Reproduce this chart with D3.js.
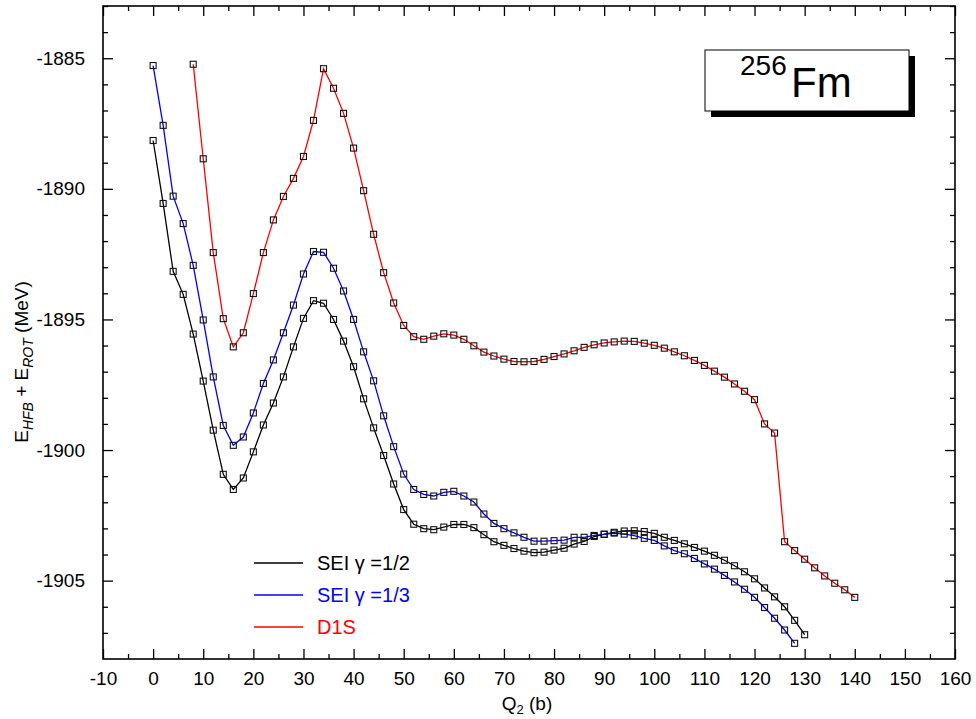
<!DOCTYPE html>
<html>
<head>
<meta charset="utf-8">
<script src="https://cdn.jsdelivr.net/npm/d3@7/dist/d3.min.js"></script>
<style>
  html, body { margin: 0; padding: 0; background: #fff; }
  svg { display: block; font-family: "Liberation Sans", Arial, sans-serif; }
</style>
</head>
<body>
<svg id="chart" width="976" height="719"></svg>
<script>
// Deformation Q2 (b) for each calculation
const qSEIhalf = [0,2,4,6,8,10,12,14,16,18,20,22,24,26,28,30,32,34,36,38,40,42,44,46,48,50,52,54,56,58,60,62,64,66,68,70,72,74,76,78,80,82,84,86,88,90,92,94,96,98,100,102,104,106,108,110,112,114,116,118,120,122,124,126,128,130];
const qSEIthird = [0,2,4,6,8,10,12,14,16,18,20,22,24,26,28,30,32,34,36,38,40,42,44,46,48,50,52,54,56,58,60,62,64,66,68,70,72,74,76,78,80,82,84,86,88,90,92,94,96,98,100,102,104,106,108,110,112,114,116,118,120,122,124,126,128];
const qD1S = [8,10,12,14,16,18,20,22,24,26,28,30,32,34,36,38,40,42,44,46,48,50,52,54,56,58,60,62,64,66,68,70,72,74,76,78,80,82,84,86,88,90,92,94,96,98,100,102,104,106,108,110,112,114,116,118,120,122,124,126,128,130,132,134,136,138,140];

// E_HFB + E_ROT (MeV)
const eSEIhalf = [-1888.15,-1890.56,-1893.16,-1894.04,-1895.56,-1897.36,-1899.24,-1900.93,-1901.51,-1901.07,
  -1900.07,-1899.04,-1898.20,-1897.20,-1896.05,-1894.96,-1894.28,-1894.38,-1895.00,-1895.83,
  -1896.81,-1898.04,-1899.15,-1900.21,-1901.30,-1902.28,-1902.84,-1903.01,-1903.05,-1902.95,
  -1902.85,-1902.85,-1902.97,-1903.24,-1903.51,-1903.65,-1903.77,-1903.87,-1903.93,-1903.91,
  -1903.83,-1903.76,-1903.60,-1903.50,-1903.31,-1903.22,-1903.15,-1903.10,-1903.09,-1903.12,
  -1903.19,-1903.34,-1903.46,-1903.59,-1903.73,-1903.87,-1904.03,-1904.22,-1904.43,-1904.66,
  -1904.93,-1905.28,-1905.62,-1906.00,-1906.52,-1907.07];
const eSEIthird = [-1885.28,-1887.57,-1890.28,-1891.33,-1892.93,-1895.02,-1897.20,-1899.06,-1899.82,-1899.50,
  -1898.58,-1897.45,-1896.55,-1895.51,-1894.45,-1893.26,-1892.40,-1892.43,-1893.04,-1893.91,
  -1895.00,-1896.24,-1897.35,-1898.69,-1899.87,-1900.92,-1901.51,-1901.70,-1901.76,-1901.62,
  -1901.58,-1901.76,-1901.99,-1902.45,-1902.81,-1903.01,-1903.17,-1903.34,-1903.49,-1903.49,
  -1903.47,-1903.45,-1903.34,-1903.34,-1903.27,-1903.23,-1903.18,-1903.22,-1903.28,-1903.38,
  -1903.46,-1903.67,-1903.85,-1903.97,-1904.15,-1904.36,-1904.56,-1904.80,-1905.05,-1905.33,
  -1905.64,-1906.03,-1906.44,-1906.89,-1907.40];
const eD1S = [-1885.23,-1888.85,-1892.44,-1894.97,-1896.05,-1895.51,-1894.01,-1892.44,-1891.19,-1890.29,
  -1889.60,-1888.76,-1887.38,-1885.40,-1886.15,-1887.11,-1888.44,-1890.07,-1891.74,-1893.21,
  -1894.37,-1895.23,-1895.66,-1895.76,-1895.64,-1895.55,-1895.60,-1895.76,-1896.01,-1896.25,
  -1896.40,-1896.52,-1896.61,-1896.62,-1896.61,-1896.53,-1896.42,-1896.32,-1896.20,-1896.07,
  -1895.97,-1895.90,-1895.86,-1895.83,-1895.84,-1895.91,-1895.99,-1896.10,-1896.24,-1896.39,
  -1896.57,-1896.76,-1896.98,-1897.21,-1897.47,-1897.75,-1898.07,-1899.00,-1899.35,-1903.51,
  -1903.85,-1904.18,-1904.51,-1904.82,-1905.10,-1905.35,-1905.64];

const seriesNames = ["SEI \u03b3 =1/2", "SEI \u03b3 =1/3", "D1S"];
const seriesColors = ["#000000", "#0000ff", "#ff0000"];

const xTickValues = [-10,0,10,20,30,40,50,60,70,80,90,100,110,120,130,140,150,160];
const xMinorValues = [-5,5,15,25,35,45,55,65,75,85,95,105,115,125,135,145,155];
const yTickValues = [-1905,-1900,-1895,-1890,-1885];
const yMinorValues = [-1907,-1906,-1904,-1903,-1902,-1901,-1899,-1898,-1897,-1896,-1894,-1893,-1892,-1891,-1889,-1888,-1887,-1886,-1884,-1883];

const series = [
  {name: seriesNames[0], color: seriesColors[0], q: qSEIhalf, e: eSEIhalf},
  {name: seriesNames[1], color: seriesColors[1], q: qSEIthird, e: eSEIthird},
  {name: seriesNames[2], color: seriesColors[2], q: qD1S, e: eD1S}
];

const L = 103, R = 955, T = 6, B = 659;
const svg = d3.select("#chart");
const x = d3.scaleLinear().domain([-10, 160]).range([L, R]);
const y = d3.scaleLinear().domain([-1908, -1883]).range([B, T]);
const fmt = d => String(d);
const FS = 19;

// axes with inward ticks on all four sides
function styleAxis(g) {
  g.select(".domain").remove();
  g.selectAll(".tick line").attr("stroke", "#000").attr("stroke-width", 1.3);
  g.selectAll("text").attr("font-size", FS).attr("fill", "#000")
    .attr("font-family", "'Liberation Sans', Arial, sans-serif");
}
svg.append("g").attr("transform", `translate(0,${B})`)
  .call(d3.axisBottom(x).tickValues(xTickValues).tickFormat(fmt).tickSizeInner(-10).tickSizeOuter(0).tickPadding(13))
  .call(styleAxis);
svg.append("g").attr("transform", `translate(0,${B})`)
  .call(d3.axisBottom(x).tickValues(xMinorValues).tickFormat("").tickSizeInner(-5).tickSizeOuter(0))
  .call(styleAxis);
svg.append("g").attr("transform", `translate(0,${T})`)
  .call(d3.axisTop(x).tickValues(xTickValues).tickFormat("").tickSizeInner(-10).tickSizeOuter(0))
  .call(styleAxis);
svg.append("g").attr("transform", `translate(0,${T})`)
  .call(d3.axisTop(x).tickValues(xMinorValues).tickFormat("").tickSizeInner(-5).tickSizeOuter(0))
  .call(styleAxis);
svg.append("g").attr("transform", `translate(${L},0)`)
  .call(d3.axisLeft(y).tickValues(yTickValues).tickFormat(fmt).tickSizeInner(-10).tickSizeOuter(0).tickPadding(18))
  .call(styleAxis);
svg.append("g").attr("transform", `translate(${L},0)`)
  .call(d3.axisLeft(y).tickValues(yMinorValues).tickFormat("").tickSizeInner(-5).tickSizeOuter(0))
  .call(styleAxis);
svg.append("g").attr("transform", `translate(${R},0)`)
  .call(d3.axisRight(y).tickValues(yTickValues).tickFormat("").tickSizeInner(-10).tickSizeOuter(0))
  .call(styleAxis);
svg.append("g").attr("transform", `translate(${R},0)`)
  .call(d3.axisRight(y).tickValues(yMinorValues).tickFormat("").tickSizeInner(-5).tickSizeOuter(0))
  .call(styleAxis);

// plot frame
svg.append("rect").attr("x", L).attr("y", T).attr("width", R - L).attr("height", B - T)
  .attr("fill", "none").attr("stroke", "#000").attr("stroke-width", 1.6);

// curves
const line = d3.line().x(d => x(d[0])).y(d => y(d[1]));
series.forEach(s => {
  const pts = s.q.map((q, i) => [q, s.e[i]]);
  svg.append("path").datum(pts).attr("d", line)
    .attr("fill", "none").attr("stroke", s.color).attr("stroke-width", 1.3);
});
// open square markers
series.forEach(s => {
  const pts = s.q.map((q, i) => [q, s.e[i]]);
  svg.append("g").selectAll("rect").data(pts).join("rect")
    .attr("x", d => x(d[0]) - 3).attr("y", d => y(d[1]) - 3)
    .attr("width", 6).attr("height", 6)
    .attr("fill", "none").attr("stroke", "#111").attr("stroke-width", 1.1);
});

// legend
const legY = [563, 595, 627];
series.forEach((s, i) => {
  svg.append("line").attr("x1", 254).attr("x2", 303).attr("y1", legY[i]).attr("y2", legY[i])
    .attr("stroke", s.color).attr("stroke-width", 1.3);
  svg.append("text").attr("x", 317).attr("y", legY[i] + 7).attr("font-size", 20)
    .attr("fill", s.color).text(s.name);
});

// nucleus label box with drop shadow
svg.append("rect").attr("x", 711).attr("y", 56).attr("width", 204).attr("height", 61).attr("fill", "#000");
svg.append("rect").attr("x", 705).attr("y", 50).attr("width", 204).attr("height", 61)
  .attr("fill", "#fff").attr("stroke", "#000").attr("stroke-width", 1);
svg.append("text").attr("x", 740).attr("y", 75).attr("font-size", 28).attr("fill", "#000").text("256");
svg.append("text").attr("x", 791).attr("y", 97).attr("font-size", 42).attr("fill", "#000").text("Fm");

// x-axis title
const xt = svg.append("text").attr("x", (L + R) / 2 - 2).attr("y", 710).attr("text-anchor", "middle")
  .attr("font-size", FS).attr("fill", "#000");
xt.append("tspan").text("Q");
xt.append("tspan").attr("font-size", 13).attr("dy", 4).text("2");
xt.append("tspan").attr("dy", -4).text(" (b)");

// y-axis title
const yt = svg.append("text").attr("transform", "translate(28,362) rotate(-90)")
  .attr("text-anchor", "middle").attr("font-size", FS).attr("fill", "#000");
yt.append("tspan").text("E");
yt.append("tspan").attr("font-size", 14).attr("font-style", "italic").attr("dy", 5).text("HFB");
yt.append("tspan").attr("dy", -5).text(" + E");
yt.append("tspan").attr("font-size", 14).attr("font-style", "italic").attr("dy", 5).text("ROT");
yt.append("tspan").attr("dy", -5).text(" (MeV)");
</script>
</body>
</html>
